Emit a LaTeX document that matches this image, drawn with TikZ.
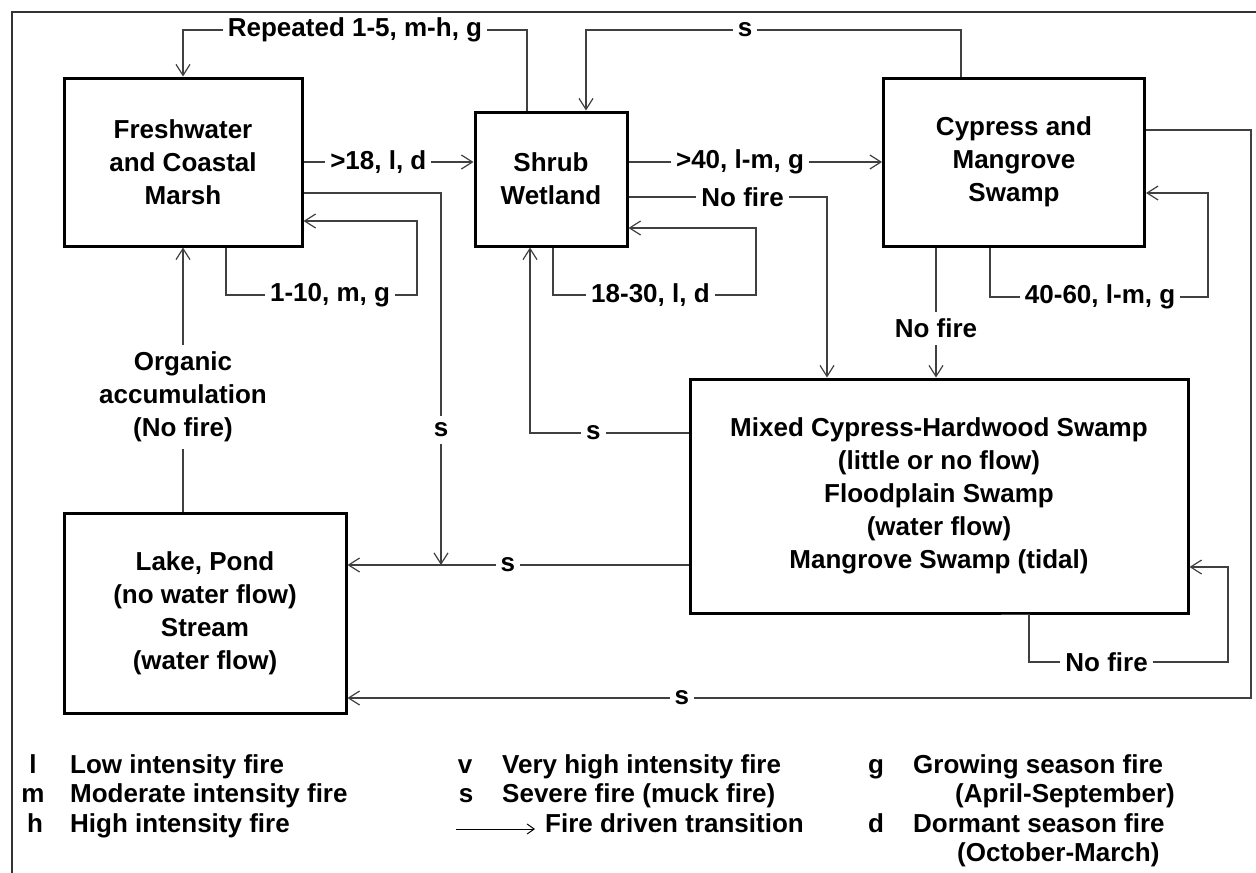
\documentclass[tikz,border=0pt]{standalone}
\usepackage{fontspec}
\setmainfont{Liberation Sans}
\usetikzlibrary{arrows.meta,positioning,calc}

\begin{document}
\begin{tikzpicture}[x=1pt, y=-1pt,
    every node/.style={font=\fontsize{26}{33}\selectfont\bfseries},
    habitat/.style={draw, line width=3pt, align=center, inner sep=0pt},
    lbl/.style={fill=white, align=center, inner xsep=5pt, inner ysep=1pt},
    vlbl/.style={lbl, inner xsep=2pt, inner ysep=7pt},
    link/.style={draw=black!75, line width=1.2pt},
    keytext/.style={inner sep=0pt, anchor=base west},
    keychar/.style={inner sep=0pt, anchor=base},
    >={Straight Barb[length=11pt,width=14pt]}]
  \useasboundingbox (0,0) rectangle (1256,873);
  \draw[black!80, line width=2pt] (12,873) -- (12,12) -- (1256,12);

  % habitats
  \node[habitat, minimum width=238pt, minimum height=168pt] (fresh) at (183,162) {Freshwater\\and Coastal\\Marsh};
  \node[habitat, minimum width=152pt, minimum height=134pt] (shrub) at (551,179) {Shrub\\Wetland};
  \node[habitat, minimum width=261pt, minimum height=168pt] (cyp) at (1014,162) {Cypress and\\Mangrove\\Swamp};
  \node[habitat, minimum width=498pt, minimum height=234pt] (mixed) at (939,496) {Mixed Cypress-Hardwood Swamp\\(little or no flow)\\Floodplain Swamp\\(water flow)\\Mangrove Swamp (tidal)};
  \node[habitat, minimum width=282pt, minimum height=200pt] (lake) at (205,613) {Lake, Pond\\(no water flow)\\Stream\\(water flow)};
  \coordinate (join) at (441,565);

  % transitions out of the marsh
  \draw[link,->] (527,0 |- shrub.north) -- (527,30) -- node[lbl, pos=0.5] {Repeated 1-5, m-h, g} (183,30) -- (fresh.north);
  \draw[link,->] (fresh.east) -- node[lbl, pos=0.44] {>18, l, d} (fresh.east -| shrub.west);
  \draw[link,->] (226,0 |- fresh.south) -- (226,295) -- node[lbl, pos=0.545] {1-10, m, g} (417,295) -- (417,221) -- (fresh.east |- 0,221);
  \draw[link,->] (fresh.south |- lake.north) -- node[vlbl, pos=0.434] {Organic\\accumulation\\(No fire)} (fresh.south);

  % transitions out of the shrub wetland
  \draw[link,->] (553,0 |- shrub.south) -- (553,295) -- node[lbl, pos=0.48] {18-30, l, d} (756,295) -- (756,228) -- (shrub.east |- 0,228);
  \draw[link,->] (shrub.east |- cyp.west) -- node[lbl, pos=0.44] {>40, l-m, g} (cyp.west);
  \draw[link,->] (shrub.east |- 0,197) -- node[lbl, pos=0.575] {No fire} (827,197) -- (827,0 |- mixed.north);

  % transitions out of the cypress swamp
  \draw[link,->] (961,0 |- cyp.north) -- (961,30) -- node[lbl, pos=0.576] {s} (586,30) -- (586,0 |- shrub.north);
  \draw[link,->] (936,0 |- cyp.south) -- node[vlbl, pos=0.62] {No fire} (936,0 |- mixed.north);
  \draw[link,->] (990,0 |- cyp.south) -- (990,297) -- node[lbl, pos=0.505] {40-60, l-m, g} (1208,297) -- (1208,193) -- (cyp.east |- 0,193);
  \draw[link,->] (cyp.east |- 0,130) -- (1251,130) -- (1251,698) -- node[lbl, pos=0.63] {s} (lake.east |- 0,698);

  % transitions out of the mixed swamp
  \draw[link,->] (mixed.west |- 0,565) -- node[lbl, pos=0.53] {s} (lake.east |- join);
  \draw[link,->] (fresh.east |- 0,193) -- (441,193) -- node[vlbl, pos=0.637] {s} (join);
  \draw[link,->] (mixed.west |- 0,433) -- node[lbl, pos=0.6] {s} (530,433) -- (530,0 |- shrub.south);
  \draw[link,->] (1001,0 |- mixed.south) -- (1029,0 |- mixed.south) -- (1029,662) -- node[lbl, pos=0.39] {No fire} (1228,662) -- (1228,567) -- (mixed.east |- 0,567);

  % legend
  \node[keychar] (kl) at (33,773) {l};
  \node[keytext] (tl) at (70,773) {Low intensity fire};
  \node[keychar] (km) at (33,802) {m};
  \node[keytext] (tm) at (70,802) {Moderate intensity fire};
  \node[keychar] (kh) at (35,832) {h};
  \node[keytext] (th) at (70,832) {High intensity fire};
  \node[keychar] (kv) at (465,773) {v};
  \node[keytext] (tv) at (502,773) {Very high intensity fire};
  \node[keychar] (ks) at (466,802) {s};
  \node[keytext] (ts) at (502,802) {Severe fire (muck fire)};
  \node[keytext] (tf) at (545,832) {Fire driven transition};
  \coordinate (arrA) at (456,829);
  \coordinate (arrB) at (535,829);
  \draw[line width=1pt, -{Straight Barb[length=7pt,width=10pt]}] (arrA) -- (arrB);
  \node[keychar] (kg) at (876,773) {g};
  \node[keytext] (tg) at (913,773) {Growing season fire};
  \node[keytext] (tg2) at (955,802) {(April-September)};
  \node[keychar] (kd) at (876,832) {d};
  \node[keytext] (td) at (913,832) {Dormant season fire};
  \node[keytext] (td2) at (957,861) {(October-March)};
\end{tikzpicture}
\end{document}
